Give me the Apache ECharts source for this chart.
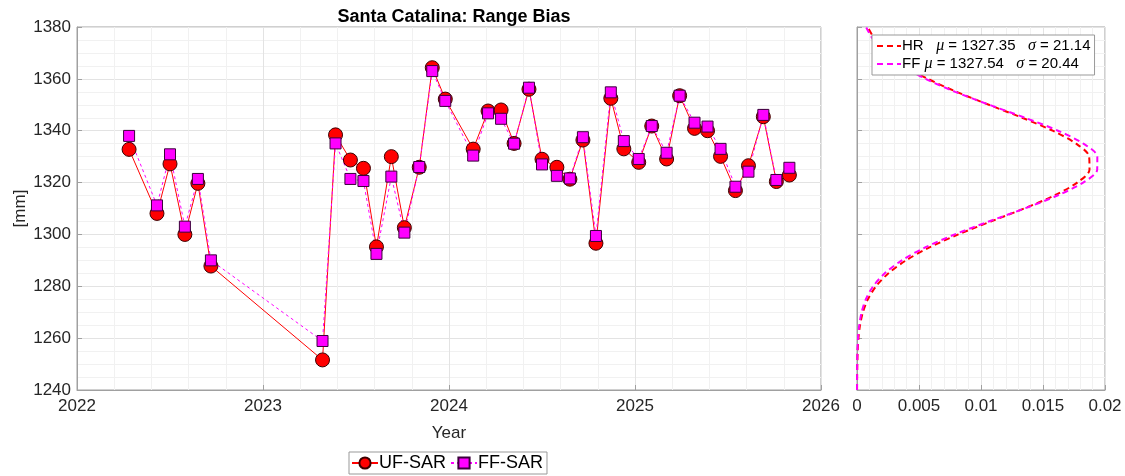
<!DOCTYPE html>
<html>
<head>
<meta charset="utf-8">
<script src="https://cdn.jsdelivr.net/npm/echarts@6/dist/echarts.min.js"></script>
<style>
  html, body { margin: 0; padding: 0; background: #fff; }
  #chart { width: 1125px; height: 476px; }
</style>
</head>
<body>
<div id="chart"></div>
<script>
// acquisition dates (decimal years)
const dates = [2022.28, 2022.43, 2022.50, 2022.58, 2022.65, 2022.72, 2023.32, 2023.39, 2023.47, 2023.54,
  2023.61, 2023.69, 2023.76, 2023.84, 2023.91, 2023.98, 2024.13, 2024.21, 2024.28, 2024.35,
  2024.43, 2024.50, 2024.58, 2024.65, 2024.72, 2024.79, 2024.87, 2024.94, 2025.02, 2025.09,
  2025.17, 2025.24, 2025.32, 2025.39, 2025.46, 2025.54, 2025.61, 2025.69, 2025.76, 2025.83];
// range bias [mm]
const ufSar = [1332.8, 1308.1, 1327.2, 1300.0, 1319.7, 1287.8, 1251.6, 1338.4, 1328.7, 1325.5,
  1295.2, 1330.0, 1302.6, 1325.9, 1364.3, 1352.2, 1332.9, 1347.6, 1348.0, 1335.1,
  1356.0, 1329.0, 1325.9, 1321.3, 1336.4, 1296.6, 1352.5, 1333.0, 1327.8, 1341.8,
  1329.1, 1353.5, 1340.9, 1340.0, 1330.1, 1316.9, 1326.5, 1345.4, 1320.4, 1322.9];
const ffSar = [1338.0, 1311.2, 1330.9, 1303.0, 1321.4, 1290.0, 1258.9, 1335.1, 1321.4, 1320.6,
  1292.5, 1322.3, 1300.7, 1326.0, 1363.0, 1351.5, 1330.4, 1346.7, 1344.6, 1335.0,
  1356.6, 1327.0, 1322.6, 1321.6, 1337.5, 1299.4, 1354.8, 1336.0, 1329.1, 1341.8,
  1331.5, 1353.5, 1343.1, 1341.6, 1333.0, 1318.4, 1324.2, 1346.1, 1321.0, 1325.7];

// density curves
const pdfLevels = [1240, 1245, 1250, 1255, 1260, 1265, 1270, 1275, 1280, 1285, 1290, 1295, 1300, 1305, 1310,
  1315, 1320, 1325, 1330, 1335, 1340, 1345, 1350, 1355, 1360, 1365, 1370, 1375, 1380];
const hrPdf = [0.0000037, 0.0000096, 0.000023, 0.000054, 0.000118, 0.000244, 0.000476, 0.00088, 0.001535, 0.002538,
  0.003957, 0.005846, 0.008171, 0.01079, 0.01348, 0.01591, 0.01776, 0.01875, 0.01872, 0.01767,
  0.01578, 0.01332, 0.01063, 0.00802, 0.005725, 0.003863, 0.002466, 0.001489, 0.00085];
const ffPdf = [0.000002, 0.0000056, 0.0000147, 0.0000359, 0.000083, 0.000181, 0.000371, 0.000716, 0.001305, 0.002239,
  0.003613, 0.005499, 0.00788, 0.010625, 0.013506, 0.01617, 0.018236, 0.01937, 0.01938, 0.01826,
  0.01621, 0.01355, 0.01067, 0.007918, 0.005532, 0.003641, 0.002256, 0.001318, 0.000725];
const hrStats = { mu: '1327.35', sigma: '21.14' };
const ffStats = { mu: '1327.54', sigma: '20.44' };

const font = 'Liberation Sans';
const textCol = '#262626';
const boxCol = '#a0a0a0';
const gridCol = '#e3e3e3';
const minorCol = '#f1f1f1';

const chart = echarts.init(document.getElementById('chart'));

function valueAxis(extra) {
  return Object.assign({
    type: 'value',
    axisLine: { show: true, lineStyle: { color: boxCol } },
    axisTick: { show: true, inside: true, length: 5, lineStyle: { color: boxCol } },
    axisLabel: { color: textCol, fontFamily: font, fontSize: 17 },
    splitLine: { show: true, lineStyle: { color: gridCol } },
    minorTick: { show: false, splitNumber: 5 },
    minorSplitLine: { show: true, lineStyle: { color: minorCol } }
  }, extra);
}

chart.setOption({
  animation: false,
  title: {
    text: 'Santa Catalina: Range Bias',
    left: 449,
    top: 3,
    textAlign: 'center',
    textStyle: { fontFamily: font, fontSize: 18, fontWeight: 'bold', color: '#000' }
  },
  grid: [
    { left: 77, top: 27, width: 744, height: 363, show: true, borderColor: boxCol, borderWidth: 1 },
    { left: 857, top: 27, width: 248, height: 363, show: true, borderColor: boxCol, borderWidth: 1 }
  ],
  xAxis: [
    valueAxis({
      gridIndex: 0, min: 2022, max: 2026, interval: 1,
      name: 'Year', nameLocation: 'middle', nameGap: 35,
      nameTextStyle: { color: textCol, fontFamily: font, fontSize: 17 },
      axisLabel: { color: textCol, fontFamily: font, fontSize: 17, margin: 8, formatter: v => String(v) }
    }),
    valueAxis({
      gridIndex: 1, min: 0, max: 0.02, interval: 0.005,
      axisLabel: { color: textCol, fontFamily: font, fontSize: 17, margin: 8 }
    })
  ],
  yAxis: [
    valueAxis({
      gridIndex: 0, min: 1240, max: 1380, interval: 20,
      name: '[mm]', nameLocation: 'middle', nameGap: 48, nameMoveOverlap: false,
      nameTextStyle: { color: textCol, fontFamily: font, fontSize: 17 },
      minorTick: { show: false, splitNumber: 4 },
      axisLabel: { color: textCol, fontFamily: font, fontSize: 17, margin: 6, formatter: v => String(v) }
    }),
    valueAxis({
      gridIndex: 1, min: 1240, max: 1380, interval: 20,
      minorTick: { show: false, splitNumber: 4 },
      axisLabel: { show: false }
    })
  ],
  legend: [
    {
      data: ['UF-SAR', 'FF-SAR'],
      left: 349, top: 452,
      orient: 'horizontal',
      itemWidth: 26, itemHeight: 14, itemGap: 4,
      padding: [2, 4, 2, 2],
      borderColor: '#999', borderWidth: 1, backgroundColor: '#fff',
      textStyle: { color: '#000', fontFamily: font, fontSize: 18, padding: [0, 0, 0, -4] }
    },
    {
      data: ['HR', 'FF'],
      left: 872, top: 35,
      orient: 'vertical',
      itemWidth: 24, itemHeight: 10, itemGap: 2,
      padding: [3, 4, 3, 4],
      borderColor: '#999', borderWidth: 1, backgroundColor: '#fff',
      itemStyle: { opacity: 0 },
      formatter: name => {
        const s = name === 'HR' ? hrStats : ffStats;
        const gap = name === 'HR' ? '   ' : ' ';
        return name + gap + '{g|μ} = ' + s.mu + '   {g|σ} = ' + s.sigma;
      },
      textStyle: {
        color: '#000', fontFamily: font, fontSize: 15, padding: [0, 0, 0, -4],
        rich: { g: { fontFamily: 'Liberation Serif', fontStyle: 'italic', fontSize: 16, color: '#000' } }
      }
    }
  ],
  series: [
    {
      name: 'UF-SAR', type: 'line', xAxisIndex: 0, yAxisIndex: 0,
      data: dates.map((d, i) => [d, ufSar[i]]),
      symbol: 'circle', symbolSize: 14,
      lineStyle: { color: '#ff0000', width: 1 },
      itemStyle: { color: '#ff0000', borderColor: '#3a0000', borderWidth: 1 }
    },
    {
      name: 'FF-SAR', type: 'line', xAxisIndex: 0, yAxisIndex: 0,
      data: dates.map((d, i) => [d, ffSar[i]]),
      symbol: 'rect', symbolSize: 11,
      lineStyle: { color: '#ff00ff', width: 1, type: [3, 3] },
      itemStyle: { color: '#ff00ff', borderColor: '#3a003a', borderWidth: 1 }
    },
    {
      name: 'HR', type: 'line', xAxisIndex: 1, yAxisIndex: 1,
      data: pdfLevels.map((y, i) => [hrPdf[i], y]),
      symbol: 'none', smooth: 0.3,
      lineStyle: { color: '#ff0000', width: 2, type: [6, 4] },
      itemStyle: { color: '#ff0000' }
    },
    {
      name: 'FF', type: 'line', xAxisIndex: 1, yAxisIndex: 1,
      data: pdfLevels.map((y, i) => [ffPdf[i], y]),
      symbol: 'none', smooth: 0.3,
      lineStyle: { color: '#ff00ff', width: 2, type: [6, 4] },
      itemStyle: { color: '#ff00ff' }
    }
  ]
});
</script>
</body>
</html>
